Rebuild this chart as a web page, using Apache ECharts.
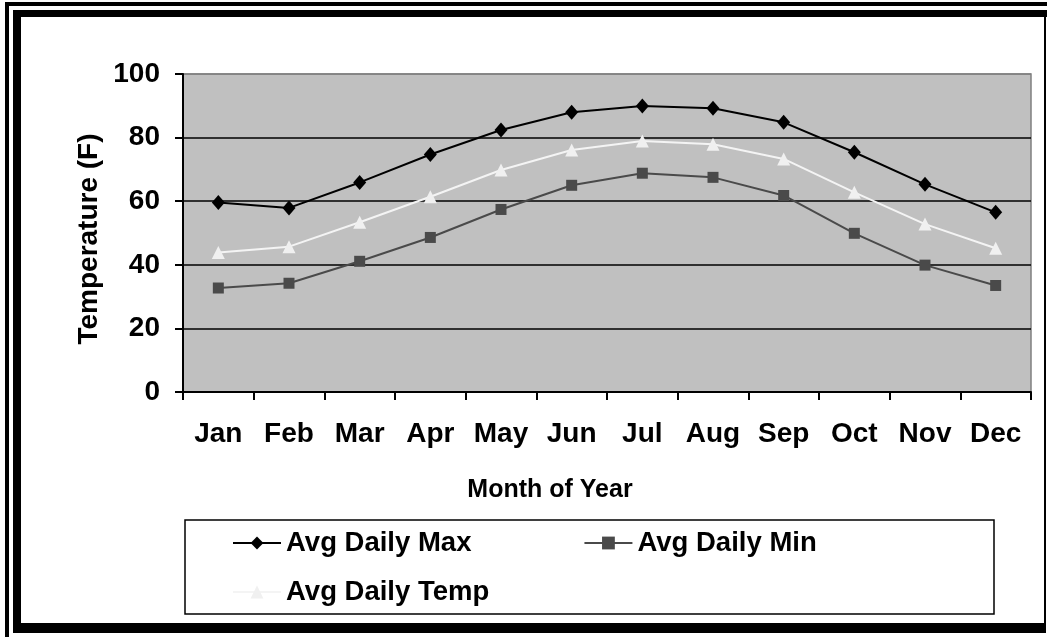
<!DOCTYPE html>
<html>
<head>
<meta charset="utf-8">
<script src="https://cdn.jsdelivr.net/npm/echarts@6/dist/echarts.min.js"></script>
<style>
  html, body { margin: 0; padding: 0; background: #fff; }
  #main { width: 1047px; height: 637px; }
</style>
</head>
<body>
<div id="main"></div>
<script>
// monthly temperatures
var months = ['Jan', 'Feb', 'Mar', 'Apr', 'May', 'Jun', 'Jul', 'Aug', 'Sep', 'Oct', 'Nov', 'Dec'];
var avgMax = [59.6, 57.9, 65.9, 74.7, 82.4, 88.0, 89.9, 89.2, 84.8, 75.4, 65.3, 56.5];
var avgMin = [32.7, 34.2, 41.1, 48.6, 57.4, 65.0, 68.8, 67.5, 61.8, 49.9, 39.9, 33.5];
var avgTemp = [43.9, 45.7, 53.4, 61.4, 69.8, 76.1, 78.9, 77.9, 73.3, 62.8, 52.8, 45.2];
var seriesNames = ['Avg Daily Max', 'Avg Daily Min', 'Avg Daily Temp'];

var font = '"Liberation Sans", Arial, sans-serif';

function rect(x, y, w, h, fill) {
  return { type: 'rect', shape: { x: x, y: y, width: w, height: h }, style: { fill: fill }, silent: true };
}

var option = {
  animation: false,
  grid: {
    left: 183, top: 74, right: 16, bottom: 245,
    show: true,
    backgroundColor: '#c0c0c0',
    borderColor: '#808080',
    borderWidth: 1.5
  },
  // legend split in two so the rows sit close together
  legend: [{
    data: [seriesNames[0], seriesNames[1]],
    left: 232, top: 529, padding: 0,
    itemWidth: 48, itemHeight: 16, itemGap: 112,
    textStyle: { fontFamily: font, fontWeight: 'bold', fontSize: 27.5, color: '#000' }
  }, {
    data: [seriesNames[2]],
    left: 232, top: 578, padding: 0,
    itemWidth: 48, itemHeight: 16,
    textStyle: { fontFamily: font, fontWeight: 'bold', fontSize: 27.5, color: '#000' }
  }],
  xAxis: {
    type: 'category',
    data: months,
    boundaryGap: true,
    axisLine: { lineStyle: { color: '#000', width: 2 } },
    axisTick: { show: true, interval: 0, length: 8, lineStyle: { color: '#000', width: 2 } },
    axisLabel: { interval: 0, hideOverlap: false, color: '#000', fontFamily: font, fontWeight: 'bold', fontSize: 28, margin: 28 },
    splitLine: { show: false }
  },
  yAxis: {
    type: 'value',
    min: 0, max: 100, interval: 20,
    axisLine: { show: true, lineStyle: { color: '#000', width: 2 } },
    axisTick: { show: true, length: 8, lineStyle: { color: '#000', width: 2 } },
    axisLabel: { color: '#000', fontFamily: font, fontWeight: 'bold', fontSize: 28, margin: 23 },
    splitLine: { show: true, lineStyle: { color: ['#000', '#000', '#000', '#000', '#000', '#808080'], width: 1.5 } }
  },
  graphic: [
    // double frame round the picture
    rect(5, 2, 1042, 4, '#000'),
    rect(5, 2, 4, 635, '#000'),
    rect(13, 10, 1034, 7, '#000'),
    rect(13, 10, 8, 623, '#000'),
    rect(1044, 10, 2, 623, '#000'),
    rect(13, 623, 1033, 10, '#000'),
    // legend box
    {
      type: 'rect', silent: true,
      shape: { x: 185, y: 520, width: 809, height: 94 },
      style: { fill: 'none', stroke: '#000', lineWidth: 1.5 }
    },
    // axis titles
    {
      type: 'text', silent: true,
      x: 550, y: 490,
      style: { text: 'Month of Year', fontFamily: font, fontWeight: 'bold', fontSize: 25, fill: '#000', align: 'center', verticalAlign: 'middle' }
    },
    {
      type: 'text', silent: true,
      x: 89, y: 239, rotation: Math.PI / 2,
      style: { text: 'Temperature (F)', fontFamily: font, fontWeight: 'bold', fontSize: 28, fill: '#000', align: 'center', verticalAlign: 'middle' }
    }
  ],
  series: [{
    name: seriesNames[0],
    type: 'line',
    data: avgMax,
    symbol: 'diamond', symbolSize: [13, 15],
    itemStyle: { color: '#000' },
    lineStyle: { color: '#000', width: 2 }
  }, {
    name: seriesNames[1],
    type: 'line',
    data: avgMin,
    symbol: 'rect', symbolSize: 11,
    itemStyle: { color: '#4a4a4a' },
    lineStyle: { color: '#4a4a4a', width: 2 }
  }, {
    name: seriesNames[2],
    type: 'line',
    data: avgTemp,
    symbol: 'triangle', symbolSize: 13,
    itemStyle: { color: '#f0f0f0' },
    lineStyle: { color: '#f4f4f4', width: 2 }
  }]
};

var myChart = echarts.init(document.getElementById('main'));
myChart.setOption(option);
</script>
</body>
</html>
